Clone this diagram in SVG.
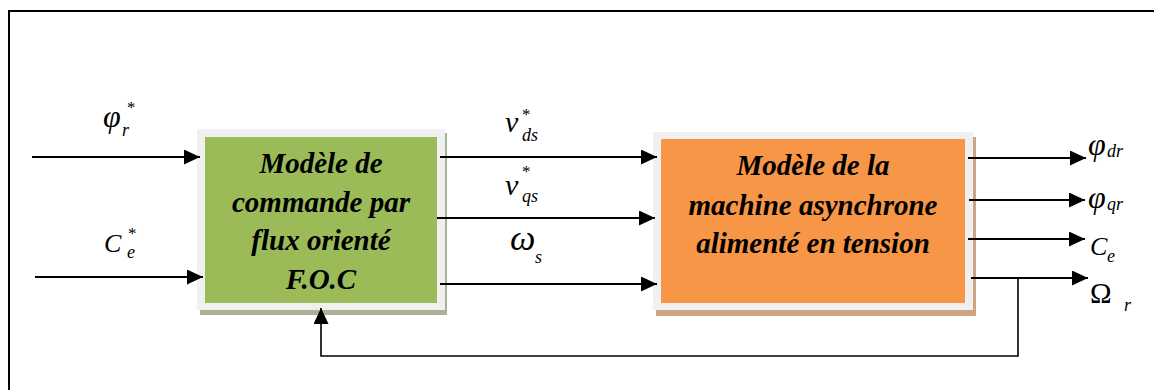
<svg xmlns="http://www.w3.org/2000/svg" width="1154" height="390" viewBox="0 0 1154 390">
  <defs>
    <marker id="arrow" markerUnits="userSpaceOnUse" markerWidth="16" markerHeight="15" refX="16" refY="7.5" orient="auto">
      <path d="M0,0 L16,7.5 L0,15 Z" fill="#000"/>
    </marker>
  </defs>
  <style>
    .wire { fill: none; stroke: #000; stroke-width: 2; }
    .fb { fill: none; stroke: #000; stroke-width: 1.6; }
    .frame { fill: #f0f0f0; }
    .box-text { font-family: "Liberation Serif", "Times New Roman", serif; font-size: 29px; font-weight: bold; font-style: italic; fill: #000; text-anchor: middle; }
    .sym { font-family: "Liberation Serif", "Times New Roman", serif; font-style: italic; font-size: 26px; fill: #000; }
    .greek { font-size: 32px; }
    .sub { font-family: "Liberation Serif", "Times New Roman", serif; font-style: italic; font-size: 18px; fill: #000; }
    .star { font-family: "Liberation Serif", "Times New Roman", serif; font-size: 17px; fill: #000; }
  </style>

  <rect width="1154" height="390" fill="#fff"/>
  <!-- outer border (top and left edges) -->
  <path d="M9,390 V11 H1154" fill="none" stroke="#000" stroke-width="2"/>

  <!-- control block -->
  <g id="foc">
    <rect x="200" y="133" width="247" height="182" fill="#a7b394"/>
    <rect class="frame" x="197" y="129" width="248" height="181"/>
    <rect x="205" y="137" width="232" height="166" fill="#9bbb59"/>
    <text class="box-text" x="321" y="173">Modèle de</text>
    <text class="box-text" x="321" y="212">commande par</text>
    <text class="box-text" x="321" y="250">flux orienté</text>
    <text class="box-text" x="321" y="289">F.O.C</text>
  </g>

  <!-- machine block -->
  <g id="machine">
    <rect x="656" y="137" width="320" height="179" fill="#cfa385"/>
    <rect class="frame" x="653" y="132" width="320" height="178"/>
    <rect x="661" y="139" width="304" height="164" fill="#f79646"/>
    <text class="box-text" x="813" y="175">Modèle de la</text>
    <text class="box-text" x="813" y="215">machine asynchrone</text>
    <text class="box-text" x="813" y="253">alimenté en tension</text>
  </g>

  <!-- connectors -->
  <g id="connectors">
    <line class="wire" x1="32" y1="157" x2="200" y2="157" marker-end="url(#arrow)"/>
    <line class="wire" x1="35" y1="277" x2="203" y2="277" marker-end="url(#arrow)"/>
    <line class="wire" x1="440" y1="157" x2="657" y2="157" marker-end="url(#arrow)"/>
    <line class="wire" x1="437" y1="218" x2="655" y2="218" marker-end="url(#arrow)"/>
    <line class="wire" x1="440" y1="284" x2="657" y2="284" marker-end="url(#arrow)"/>
    <line class="wire" x1="968" y1="158" x2="1086" y2="158" marker-end="url(#arrow)"/>
    <line class="wire" x1="969" y1="200" x2="1085" y2="200" marker-end="url(#arrow)"/>
    <line class="wire" x1="968" y1="239" x2="1085" y2="239" marker-end="url(#arrow)"/>
    <line class="wire" x1="971" y1="278" x2="1088" y2="278" marker-end="url(#arrow)"/>
    <polyline class="fb" points="1018,278 1018,356 321,356 321,308" marker-end="url(#arrow)"/>
  </g>

  <!-- signal labels -->
  <g id="labels">
    <text class="sym greek" x="103" y="127">φ</text>
    <text class="sub" x="122" y="136">r</text>
    <text class="star" x="127" y="113">*</text>

    <text class="sym" x="104" y="252">C</text>
    <text class="sub" x="127" y="258">e</text>
    <text class="star" x="128" y="239">*</text>

    <text class="sym" x="505" y="132" style="font-size:30px">v</text>
    <text class="sub" x="522" y="141">ds</text>
    <text class="star" x="522" y="120">*</text>

    <text class="sym" x="505" y="195" style="font-size:30px">v</text>
    <text class="sub" x="522" y="202">qs</text>
    <text class="star" x="522" y="177">*</text>

    <text class="sym" x="510" y="250" style="font-size:36px">ω</text>
    <text class="sub" x="535" y="263">s</text>

    <text class="sym greek" x="1088" y="155">φ</text>
    <text class="sub" x="1107" y="157">dr</text>

    <text class="sym greek" x="1088" y="208">φ</text>
    <text class="sub" x="1107" y="210">qr</text>

    <text class="sym" x="1090" y="255">C</text>
    <text class="sub" x="1107" y="262">e</text>

    <text class="sym" x="1090" y="303" style="font-style:normal;font-size:29px">Ω</text>
    <text class="sub" x="1124" y="311">r</text>
  </g>
</svg>
